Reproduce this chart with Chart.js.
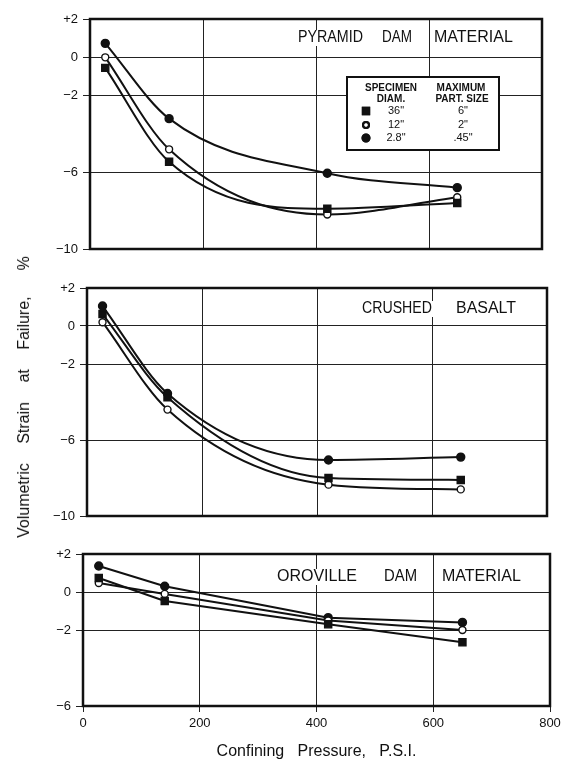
<!DOCTYPE html>
<html>
<head>
<meta charset="utf-8">
<script src="https://cdn.jsdelivr.net/npm/chart.js"></script>
<style>
  html, body { margin: 0; padding: 0; background: #fff; }
  body { width: 573px; height: 765px; position: relative; overflow: hidden; font-family: "Liberation Sans", Arial, sans-serif; }
  canvas { position: absolute; left: 0; }
  #ytitle {
    position: absolute; left: 24px; top: 397px;
    transform: translate(-50%, -50%) rotate(-90deg);
    white-space: nowrap; font-size: 16px; word-spacing: 15px; color: #111;
  }
  #ytitle span { margin-left: 26px; }
</style>
</head>
<body>
<canvas id="c1" width="573" height="262" style="top:0px"></canvas>
<canvas id="c2" width="573" height="268" style="top:262px"></canvas>
<canvas id="c3" width="573" height="235" style="top:530px"></canvas>
<div id="ytitle">Volumetric Strain at Failure,<span>%</span></div>
<script>
// confining pressure of the tests (psi)
const pressure = [27, 140, 420, 650];

// volumetric strain at failure (%) per specimen size
const pyramid36 = [-0.55, -5.45, -7.9, -7.6];
const pyramid12 = [0.0, -4.8, -8.2, -7.3];
const pyramid28 = [0.73, -3.2, -6.05, -6.8];

const basalt36 = [0.63, -3.75, -8.0, -8.1];
const basalt12 = [0.2, -4.4, -8.35, -8.6];
const basalt28 = [1.05, -3.55, -7.05, -6.9];

const oroville36 = [0.74, -0.47, -1.7, -2.65];
const oroville12 = [0.47, -0.1, -1.5, -2.0];
const oroville28 = [1.37, 0.3, -1.35, -1.6];

// tick values
const xTicks = [0, 200, 400, 600, 800];
const yTicksTall = [2, 0, -2, -6, -10];
const yTicksShort = [2, 0, -2, -6];

// legend table
const specimenDiam = ['36"', '12"', '2.8"'];
const maxPartSize = ['6"', '2"', '.45"'];

const INK = '#111';
const FONT = '"Liberation Sans", Arial, sans-serif';

const markers = [
  { pointStyle: 'rect', pointRadius: 5, pointBackgroundColor: INK },
  { pointStyle: 'circle', pointRadius: 3.5, pointBackgroundColor: '#fff' },
  { pointStyle: 'circle', pointRadius: 4, pointBackgroundColor: INK },
];

function fmtTick(v) {
  if (v > 0) return '+' + v;
  if (v < 0) return '\u2212' + Math.abs(v);
  return '0';
}

// thick frame round the plot area
const boxPlugin = {
  id: 'box',
  beforeDatasetsDraw(chart) {
    const a = chart.chartArea, ctx = chart.ctx;
    ctx.save();
    ctx.strokeStyle = INK;
    ctx.lineWidth = 2.5;
    ctx.strokeRect(a.left, a.top, a.right - a.left, a.bottom - a.top);
    ctx.restore();
  }
};

// panel caption, word by word on a white patch
function titlePlugin(words, y) {
  return {
    id: 'panelTitle',
    afterDatasetsDraw(chart) {
      const ctx = chart.ctx;
      ctx.save();
      ctx.font = '16px ' + FONT;
      ctx.textBaseline = 'middle';
      words.forEach(([w, x, width]) => {
        ctx.fillStyle = '#fff';
        ctx.fillRect(x - 2, y - 8, width + 4, 16);
        ctx.fillStyle = INK;
        ctx.fillText(w, x, y, width);
      });
      ctx.restore();
    }
  };
}

const legendPlugin = {
  id: 'sizeLegend',
  afterDatasetsDraw(chart) {
    const ctx = chart.ctx;
    ctx.save();
    ctx.fillStyle = '#fff';
    ctx.fillRect(347, 77, 152, 73);
    ctx.strokeStyle = INK;
    ctx.lineWidth = 2;
    ctx.strokeRect(347, 77, 152, 73);
    ctx.fillStyle = INK;
    ctx.textAlign = 'center';
    ctx.textBaseline = 'middle';
    ctx.font = 'bold 10px ' + FONT;
    ctx.fillText('SPECIMEN', 391, 88, 52);
    ctx.fillText('DIAM.', 391, 99);
    ctx.fillText('MAXIMUM', 461, 88, 50);
    ctx.fillText('PART. SIZE', 462, 99, 54);
    ctx.font = '11px ' + FONT;
    const rows = [111, 125, 138];
    rows.forEach((y, i) => {
      const m = markers[i];
      ctx.fillStyle = m.pointBackgroundColor;
      Chart.helpers.drawPoint(ctx, { pointStyle: m.pointStyle, radius: m.pointRadius - 0.5, borderWidth: 1.3 }, 366, y);
      ctx.stroke();
      ctx.fillStyle = INK;
      ctx.fillText(specimenDiam[i], 396, y);
      ctx.fillText(maxPartSize[i], 463, y);
    });
    ctx.restore();
  }
};

function makePanel(id, opts) {
  const ctx = document.getElementById(id).getContext('2d');
  const datasets = opts.series.map((vals, i) => Object.assign({
    data: pressure.map((x, j) => ({ x: x, y: vals[j] })),
    borderColor: INK,
    borderWidth: 2,
    pointBorderColor: INK,
    pointBorderWidth: 1.4,
    cubicInterpolationMode: opts.curved ? 'monotone' : 'default',
    tension: 0,
  }, markers[i]));

  return new Chart(ctx, {
    type: 'line',
    data: { datasets: datasets },
    options: {
      responsive: false,
      animation: false,
      layout: { padding: opts.padding },
      plugins: { legend: { display: false }, tooltip: { enabled: false } },
      scales: {
        x: {
          type: 'linear', min: 0, max: 800,
          afterBuildTicks: s => { s.ticks = xTicks.map(v => ({ value: v })); },
          ticks: { display: opts.showX, color: INK, font: { size: 13, family: FONT }, padding: 4, maxRotation: 0 },
          grid: { color: '#222', lineWidth: 1, drawTicks: opts.showX, tickLength: 6 },
          border: { display: false },
          title: {
            display: opts.showX,
            text: 'Confining   Pressure,   P.S.I.',
            color: INK,
            font: { size: 16, family: FONT },
            padding: { top: 0, bottom: 4 }
          },
          afterFit: s => { s.height = opts.showX ? 59 : 0; }
        },
        y: {
          min: opts.yMin, max: opts.yMax,
          afterBuildTicks: s => { s.ticks = opts.yTicks.map(v => ({ value: v })); },
          ticks: { callback: fmtTick, color: INK, font: { size: 13, family: FONT }, padding: 5 },
          grid: { color: '#222', lineWidth: 1, tickLength: 7 },
          border: { display: false },
          afterFit: s => { s.width = 60; }
        }
      }
    },
    plugins: opts.plugins
  });
}

makePanel('c1', {
  series: [pyramid36, pyramid12, pyramid28],
  curved: true, showX: false,
  yMin: -10, yMax: 2, yTicks: yTicksTall,
  padding: { left: 30, right: 31, top: 19, bottom: 13 },
  plugins: [boxPlugin, titlePlugin([['PYRAMID', 298, 65], ['DAM', 382, 30], ['MATERIAL', 434, 79]], 38), legendPlugin]
});

makePanel('c2', {
  series: [basalt36, basalt12, basalt28],
  curved: true, showX: false,
  yMin: -10, yMax: 2, yTicks: yTicksTall,
  padding: { left: 27, right: 26, top: 26, bottom: 14 },
  plugins: [boxPlugin, titlePlugin([['CRUSHED', 362, 70], ['BASALT', 456, 60]], 47)]
});

makePanel('c3', {
  series: [oroville36, oroville12, oroville28],
  curved: false, showX: true,
  yMin: -6, yMax: 2, yTicks: yTicksShort,
  padding: { left: 23, right: 23, top: 24, bottom: 0 },
  plugins: [boxPlugin, titlePlugin([['OROVILLE', 277, 80], ['DAM', 384, 33], ['MATERIAL', 442, 81]], 47)]
});
</script>
</body>
</html>
